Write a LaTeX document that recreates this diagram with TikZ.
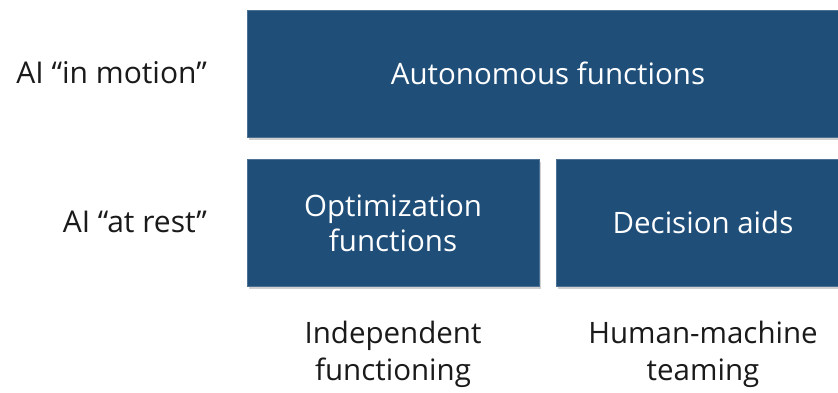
\documentclass[tikz,border=0pt]{standalone}
\usepackage{fontspec}
\setmainfont{Open Sans}
\usetikzlibrary{shadows}
\definecolor{boxblue}{HTML}{1F4E79}
\definecolor{labelgray}{HTML}{1A1A1A}
\begin{document}
\begin{tikzpicture}[x=1pt,y=-1pt,
  blockbox/.style={fill=boxblue, draw=boxblue!80!white, line width=0.6pt,
    drop shadow={shadow xshift=2pt, shadow yshift=-3pt, opacity=0.3, fill=black!60}},
  boxtext/.style={text=white, font=\fontsize{29.5}{35}\selectfont, align=center, inner sep=0pt},
  sidelabel/.style={text=labelgray, font=\fontsize{30}{35}\selectfont, anchor=east, inner sep=0pt},
  bottomlabel/.style={text=labelgray, font=\fontsize{29.5}{37}\selectfont, align=center, inner sep=0pt}]
\useasboundingbox (0,0) rectangle (838,392);
\fill[white] (0,0) rectangle (838,392);
\path[blockbox] (247,10) rectangle (840,137);
\path[blockbox] (247,159) rectangle (539,286);
\path[blockbox] (556,159) rectangle (840,286);
\node[boxtext] (auto) at (548,73) {Autonomous functions};
\node[boxtext] (opt) at (393,223) {Optimization\\functions};
\node[boxtext] (dec) at (703,222) {Decision aids};
\node[sidelabel] (motion) at (207,73) {AI “in motion”};
\node[sidelabel] (rest) at (207,222) {AI “at rest”};
\node[bottomlabel] (indep) at (393,354) {Independent\\functioning};
\node[bottomlabel] (human) at (703,354) {Human-machine\\teaming};
\end{tikzpicture}
\end{document}
